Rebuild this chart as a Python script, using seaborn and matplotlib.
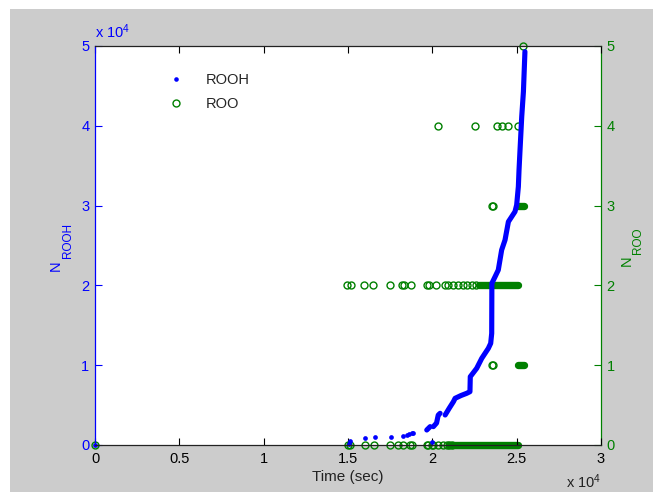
import numpy as np
import pandas as pd
import matplotlib
matplotlib.use("Agg")
import matplotlib.pyplot as plt
import seaborn as sns
from matplotlib.patches import Rectangle
from matplotlib.lines import Line2D
from matplotlib.ticker import FuncFormatter, FixedLocator

# ---------------- data ----------------
# ROOH: isolated early points (time in s, count)
rooh_dot_t = [0, 15080, 15120, 16010, 16600, 17540, 18260, 18480, 18640, 18780, 18860, 19970]
rooh_dot_n = [0, 150, 540, 840, 960, 1040, 1170, 1250, 1350, 1460, 1540, 350]

# ROOH: dense runs of points (drawn as connected pieces)
rooh_seg_a_t = [19670, 19870]
rooh_seg_a_n = [1880, 2300]
rooh_seg_b_t = [20060, 20250, 20350, 20460]
rooh_seg_b_n = [2300, 2750, 3750, 3970]
rooh_seg_c_t = [20760, 21000, 21250, 21350, 21700, 22040, 22230, 22250, 22630, 22930,
                23320, 23460, 23520, 23530, 23720, 23910, 24010, 24110, 24310, 24510,
                24900, 25000, 25100, 25140, 25200, 25300, 25400, 25490]
rooh_seg_c_n = [3760, 4600, 5430, 5850, 6200, 6480, 6680, 8560, 9610, 10860,
                12110, 12740, 13990, 20260, 21090, 21930, 23180, 24440, 25690, 27980,
                29240, 30080, 32370, 34460, 37000, 41140, 44270, 49290]

# ROO: isolated event times at each level
roo_0_t = [0, 15000, 15100, 16000, 16540, 17490, 17960, 18260, 18680, 18790, 19680, 19740,
           19980, 20040, 20340, 20630, 20850, 21000, 21150]
roo_1_t = [23560, 23620]
roo_2_t = [14960, 15160, 15950, 16500, 17490, 18180, 18320, 18740, 19670, 19830, 20220,
           20750, 20950, 21210, 21540, 21840, 22040, 22330, 22560]
roo_3_t = [23560, 23600]
roo_4_t = [20340, 22530, 23810, 24110, 24510, 25100]
roo_5_t = [25380]

# ROO: runs of overlapping events (level, first time, last time)
roo_run_level = [0, 1, 2, 3]
roo_run_start = [21000, 25100, 22760, 25100]
roo_run_end = [25100, 25450, 25100, 25450]

x_ticks = [0, 5000, 10000, 15000, 20000, 25000, 30000]
y1_ticks = [0, 10000, 20000, 30000, 40000, 50000]
y2_ticks = [0, 1, 2, 3, 4, 5]

# ---------------- styling ----------------
sns.set_theme(style="white")
plt.rcParams['font.family'] = ['Liberation Sans', 'DejaVu Sans']
plt.rcParams['mathtext.fontset'] = 'custom'
plt.rcParams['mathtext.rm'] = 'Liberation Sans'
plt.rcParams['mathtext.it'] = 'Liberation Sans'

BLUE = '#0000ff'
GREEN = '#008000'
W, H = 653, 492

fig = plt.figure(figsize=(W / 100, H / 100), dpi=100)
fig.patch.set_facecolor('white')
fig.add_artist(Rectangle((10 / W, 0), 1, 1 - 9 / H, transform=fig.transFigure,
                         facecolor='#cccccc', edgecolor='none', zorder=-10))

ax1 = fig.add_axes([95 / W, 47 / H, 506 / W, 399 / H])
ax2 = ax1.twinx()
ax1.set_zorder(3)
ax2.set_zorder(2)
ax1.patch.set_visible(False)
ax2.patch.set_facecolor('white')
ax2.patch.set_visible(True)

# ---- ROO (right axis) ----
roo_t = roo_0_t + roo_1_t + roo_2_t + roo_3_t + roo_4_t + roo_5_t
roo_n = ([0] * len(roo_0_t) + [1] * len(roo_1_t) + [2] * len(roo_2_t) +
         [3] * len(roo_3_t) + [4] * len(roo_4_t) + [5] * len(roo_5_t))
df_roo = pd.DataFrame({'t': roo_t, 'n': roo_n})
sns.lineplot(data=df_roo, x='t', y='n', ax=ax2, estimator=None, sort=False, errorbar=None,
             linestyle='', marker='o', markersize=5.0, markerfacecolor='none',
             markeredgecolor=GREEN, markeredgewidth=1.0, color=GREEN, legend=False,
             clip_on=False)

run_rows = []
for i, lev in enumerate(roo_run_level):
    run_rows.append({'t': roo_run_start[i], 'n': lev, 'run': i})
    run_rows.append({'t': roo_run_end[i], 'n': lev, 'run': i})
df_run = pd.DataFrame(run_rows)
sns.lineplot(data=df_run, x='t', y='n', units='run', ax=ax2, estimator=None, sort=False,
             errorbar=None, color=GREEN, linewidth=5.3, solid_capstyle='round',
             legend=False, clip_on=False)

# ---- ROOH (left axis) ----
df_dot = pd.DataFrame({'t': rooh_dot_t, 'n': rooh_dot_n})
sns.lineplot(data=df_dot, x='t', y='n', ax=ax1, estimator=None, sort=False, errorbar=None,
             linestyle='', marker='o', markersize=3.4, markerfacecolor=BLUE,
             markeredgecolor=BLUE, markeredgewidth=0, color=BLUE, legend=False,
             clip_on=False)
seg_t = rooh_seg_a_t + rooh_seg_b_t + rooh_seg_c_t
seg_n = rooh_seg_a_n + rooh_seg_b_n + rooh_seg_c_n
seg_id = ['a'] * len(rooh_seg_a_t) + ['b'] * len(rooh_seg_b_t) + ['c'] * len(rooh_seg_c_t)
df_seg = pd.DataFrame({'t': seg_t, 'n': seg_n, 'seg': seg_id})
sns.lineplot(data=df_seg, x='t', y='n', units='seg', ax=ax1, estimator=None, sort=False,
             errorbar=None, color=BLUE, linewidth=3.7, solid_capstyle='round',
             solid_joinstyle='round', legend=False, clip_on=False)

# ---------------- axes ----------------
ax1.set_xlim(0, 30000)
ax1.set_ylim(0, 50000)
ax2.set_ylim(0, 5)
ax1.xaxis.set_major_locator(FixedLocator(x_ticks))
ax1.yaxis.set_major_locator(FixedLocator(y1_ticks))
ax2.yaxis.set_major_locator(FixedLocator(y2_ticks))
ax1.xaxis.set_major_formatter(FuncFormatter(lambda v, p: f"{v / 1e4:g}"))
ax1.yaxis.set_major_formatter(FuncFormatter(lambda v, p: f"{v / 1e4:g}"))
ax2.yaxis.set_major_formatter(FuncFormatter(lambda v, p: f"{v:g}"))

ax1.tick_params(axis='x', direction='in', length=5, width=0.8, top=True, bottom=True,
                color='black', labelcolor='black', labelsize=10.5, pad=5)
ax1.tick_params(axis='y', direction='in', length=5, width=0.8, left=True, right=False,
                color=BLUE, labelcolor=BLUE, labelsize=10.5, pad=4)
ax2.tick_params(axis='y', direction='in', length=5, width=0.8, right=True, left=False,
                color=GREEN, labelcolor=GREEN, labelsize=10.5, pad=4)
ax2.tick_params(axis='x', bottom=False, top=False, labelbottom=False)

for s in ['top', 'bottom']:
    ax1.spines[s].set_color('#222222')
    ax1.spines[s].set_linewidth(0.9)
ax1.spines['left'].set_color(BLUE)
ax1.spines['left'].set_linewidth(0.9)
ax1.spines['right'].set_visible(False)
for s in ['top', 'bottom', 'left']:
    ax2.spines[s].set_visible(False)
ax2.spines['right'].set_color(GREEN)
ax2.spines['right'].set_linewidth(0.9)

ax1.set_xlabel('Time (sec)', fontsize=11, color='#222222', labelpad=3)
ax1.set_ylabel('')
ax2.set_ylabel('')

# y labels: "N" with a lowered subscript of nearly the same size (MATLAB style)
def ylab(main, sub, x_main, y_main, x_sub, y_sub, color):
    fig.text(x_main / W, 1 - y_main / H, main, rotation=90, color=color, fontsize=10.5,
             ha='center', va='center')
    fig.text(x_sub / W, 1 - y_sub / H, sub, rotation=90, color=color, fontsize=8.5,
             ha='center', va='center')

ylab('N', 'ROOH', 56, 266, 67.5, 240.5, BLUE)
ylab('N', 'ROO', 627, 261, 637.5, 240.5, GREEN)

ax1.text(0.0, 1.012, r'x 10$^{4}$', transform=ax1.transAxes, color=BLUE, fontsize=10.5,
         ha='left', va='bottom')
ax1.text(1.0, -0.092, r'x 10$^{4}$', transform=ax1.transAxes, color='#222222', fontsize=10.5,
         ha='right', va='center')

handles = [Line2D([], [], linestyle='', marker='o', markersize=3.3, color=BLUE,
                  markeredgewidth=0),
           Line2D([], [], linestyle='', marker='o', markersize=5.0, markerfacecolor='none',
                  markeredgecolor=GREEN, markeredgewidth=1.0)]
ax1.legend(handles, ['ROOH', 'ROO'], loc='upper left', bbox_to_anchor=(0.12, 0.966),
           frameon=False, handlelength=1.0, handletextpad=1.55, labelspacing=0.7,
           fontsize=10.5, borderaxespad=0.5, borderpad=0.4)

fig.savefig('out.png', dpi=100, facecolor=fig.get_facecolor())
